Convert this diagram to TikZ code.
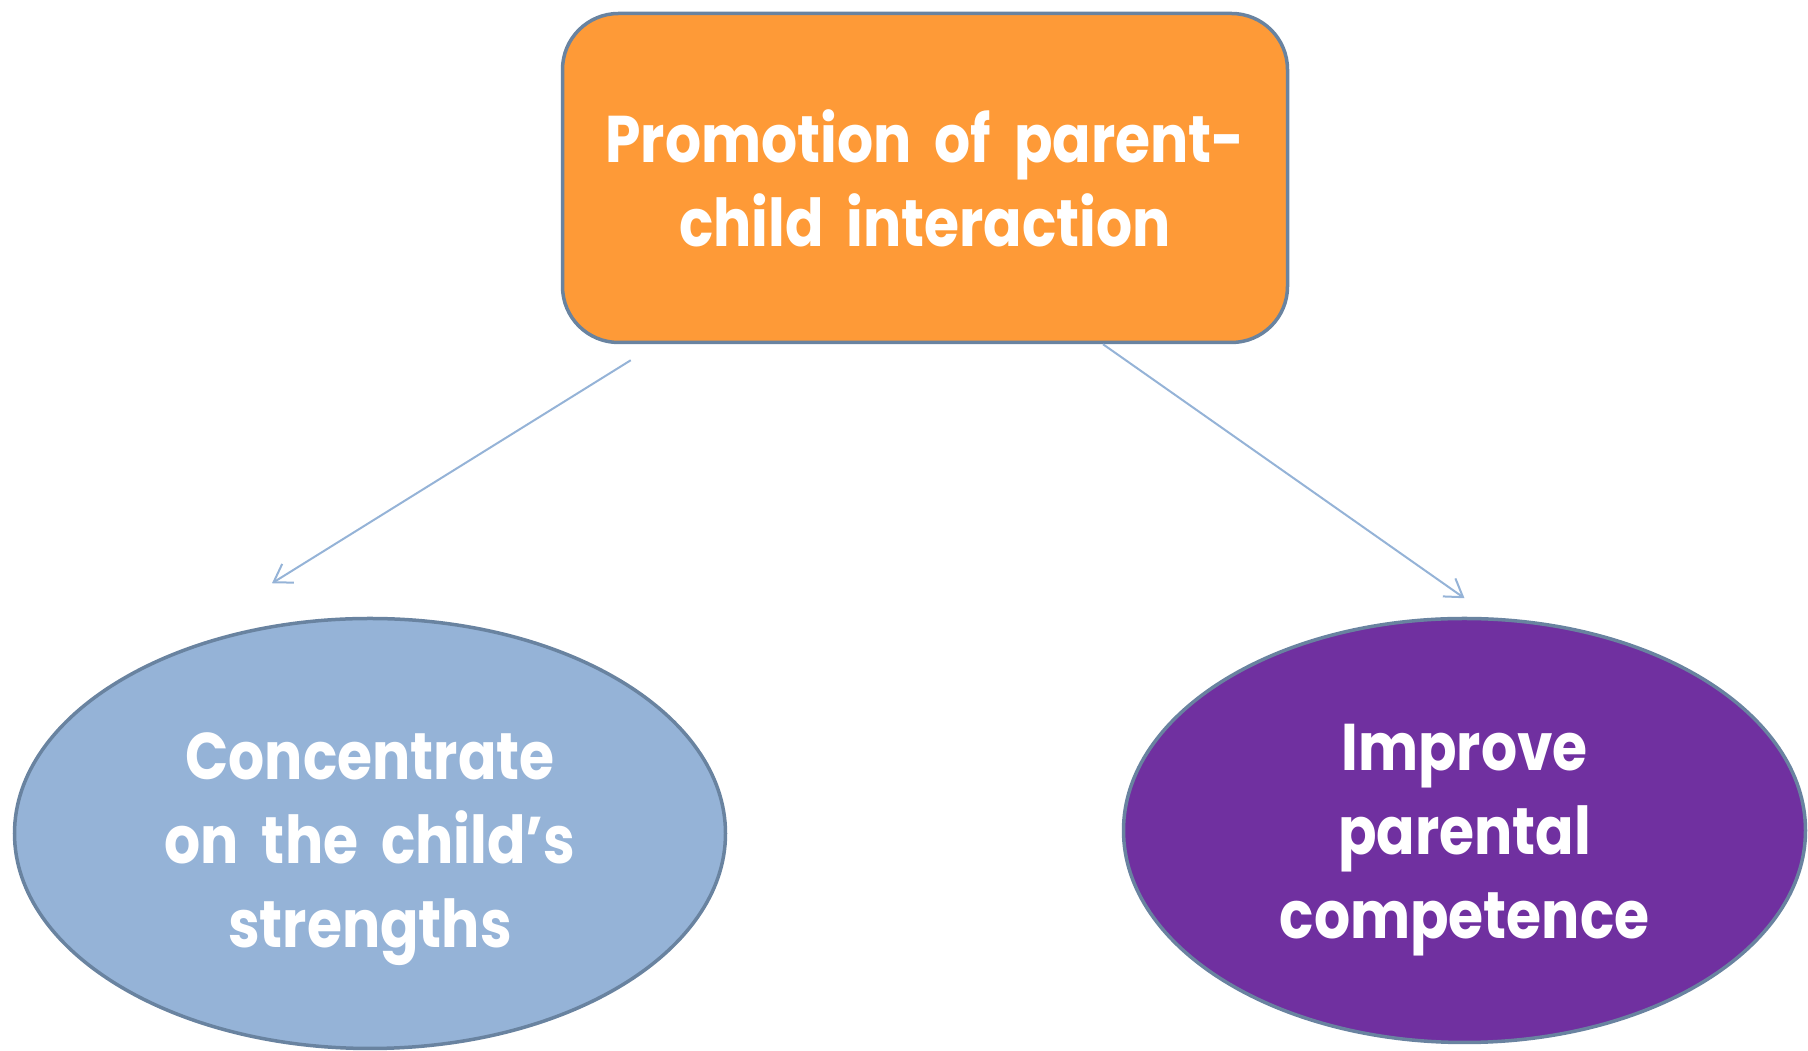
\documentclass[tikz,border=0pt]{standalone}
\usepackage{fontspec}
\usepackage{xcolor}
\usepackage{tikz}
\newfontfamily\boxfont[FakeStretch=0.86,WordSpace=1.9]{Poppins}
\usetikzlibrary{positioning}
\usetikzlibrary{arrows.meta}
\usetikzlibrary{shapes.geometric}
\usetikzlibrary{calc}
\usetikzlibrary{math}

\definecolor{promoorange}{HTML}{FE9A37}
\definecolor{outlinegray}{HTML}{6983A0}
\definecolor{lightblue}{HTML}{95B3D7}
\definecolor{deeppurple}{HTML}{7030A0}

\begin{document}
\begin{tikzpicture}[x=1pt,y=1pt,line width=3.5pt,
  labeltext/.style={text=white, align=center,
    font=\boxfont\bfseries\fontsize{66}{84}\selectfont},
  goalbox/.style={labeltext, draw=outlinegray, fill=promoorange,
    rounded corners=56pt, minimum width=725pt, minimum height=329pt},
  aimoval/.style={labeltext, ellipse, draw=outlinegray, inner sep=0pt},
  link/.style={draw=lightblue, line width=2pt,
    -{Straight Barb[length=17pt,width=22pt]}}]

  \tikzmath{
    \gap    = 16;   % gap below the box for the left arrow
    \lshift = 70;   % start of left arrow from the box corner
    \rshift = 178;  % start of right arrow from the box middle
  }

  % page frame
  \useasboundingbox (0,0) rectangle (1808,1051);

  % top box
  \node[goalbox] (promo) at (925,873)
    {Promotion of parent-\\child interaction};

  % the two aims (the rule pushes the text a little lower)
  \node[aimoval, fill=lightblue, minimum width=711pt, minimum height=430pt]
    (strengths) at (370,217.5)
    {\rule{0pt}{78pt}Concentrate\\on the child’s\\strengths};
  \node[aimoval, fill=deeppurple, minimum width=682pt, minimum height=424pt]
    (competence) at (1464.5,220.5)
    {\rule{0pt}{66pt}Improve\\parental\\competence};

  % arrow ends
  \coordinate (lstart) at ($ (promo.south west) + (\lshift,-\gap) $);
  \coordinate (lend)   at ($ (strengths.north) + (-98,33.5) $);
  \coordinate (rstart) at ($ (promo.south) + (\rshift,0) $);
  \coordinate (rend)   at ($ (competence.north) + (0,18.5) $);

  \draw[link] (lstart) -- (lend);
  \draw[link] (rstart) -- (rend);

\end{tikzpicture}
\end{document}
